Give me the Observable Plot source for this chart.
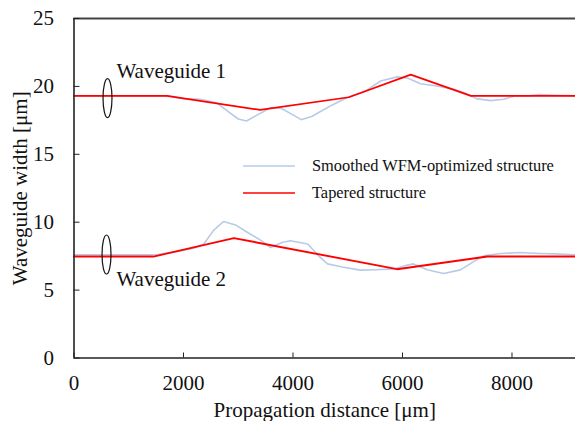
<!DOCTYPE html>
<html>
<head>
<meta charset="utf-8">
<script src="https://cdn.jsdelivr.net/npm/d3@7"></script>
<script src="https://cdn.jsdelivr.net/npm/@observablehq/plot@0.6"></script>
<style>
  html, body { margin: 0; padding: 0; background: #fff; }
  #wrap { position: relative; width: 575px; height: 421px; font-family: "Liberation Serif", "Times New Roman", serif; }
  #wrap svg text { font-family: "Liberation Serif", "Times New Roman", serif; }
  #legend { position: absolute; left: 243px; top: 152px; font-size: 16.4px; color: #111; }
  .item { display: flex; align-items: center; height: 27px; }
  .swatch { margin-right: 17px; }
</style>
</head>
<body>
<div id="wrap"><div id="legend"></div></div>
<script>
// Propagation distance (µm) and waveguide width (µm) for each structure
const wg1SmoothX = [0, 1700, 2000, 2300, 2600, 2800, 3000, 3150, 3350, 3600, 3800, 4000, 4150, 4350, 4700, 5000, 5300, 5600, 5900, 6100, 6330, 6600, 6930, 7150, 7350, 7610, 7850, 8050, 8300, 8500, 8800, 9160];
const wg1SmoothY = [19.3, 19.3, 19.1, 19.05, 18.8, 18.2, 17.6, 17.45, 17.9, 18.45, 18.35, 17.9, 17.55, 17.8, 18.6, 19.2, 19.6, 20.4, 20.7, 20.6, 20.2, 20.05, 19.8, 19.5, 19.1, 18.95, 19.05, 19.3, 19.3, 19.4, 19.35, 19.3];

const wg1TaperX = [0, 1700, 3400, 5020, 6150, 7250, 9160];
const wg1TaperY = [19.3, 19.3, 18.27, 19.2, 20.87, 19.3, 19.3];

const wg2SmoothX = [0, 1500, 1900, 2200, 2370, 2550, 2730, 2950, 3170, 3400, 3590, 3800, 3950, 4270, 4450, 4630, 4900, 5230, 5500, 5840, 6050, 6200, 6450, 6750, 7060, 7300, 7480, 7800, 8150, 8500, 8760, 9160];
const wg2SmoothY = [7.6, 7.6, 7.85, 8.1, 8.4, 9.4, 10.05, 9.8, 9.24, 8.7, 8.13, 8.5, 8.63, 8.4, 7.6, 6.93, 6.7, 6.47, 6.5, 6.56, 6.8, 6.93, 6.5, 6.22, 6.49, 7.1, 7.52, 7.7, 7.77, 7.7, 7.67, 7.6];

const wg2TaperX = [0, 1450, 2920, 5900, 7550, 9160];
const wg2TaperY = [7.47, 7.47, 8.83, 6.54, 7.47, 7.47];

const seriesNames = ["Smoothed WFM-optimized structure", "Tapered structure"];
const seriesColors = ["#b7cbe6", "#ff0000"];

const xTicks = [0, 2000, 4000, 6000, 8000];
const yTicks = [0, 5, 10, 15, 20, 25];

// Waveguide annotations: label text and bracket positions
const guideNames = ["Waveguide 1", "Waveguide 2"];
const guideLabelX = [775, 775];
const guideLabelY = [21.12, 5.8];
const guideMarkX = [612, 594];
const guideMarkY = [19.14, 7.62];

const zip = (xs, ys) => xs.map((x, i) => ({x, y: ys[i]}));
const smooth1 = zip(wg1SmoothX, wg1SmoothY);
const smooth2 = zip(wg2SmoothX, wg2SmoothY);
const taper1 = zip(wg1TaperX, wg1TaperY);
const taper2 = zip(wg2TaperX, wg2TaperY);
const guides = guideNames.map((name, i) => ({
  name, lx: guideLabelX[i], ly: guideLabelY[i], mx: guideMarkX[i], my: guideMarkY[i]
}));

// Tall narrow ellipse used as a bracket around each waveguide trace
const ellipseSymbol = {
  draw(context, size) {
    const ry = Math.sqrt(size / Math.PI), rx = ry * 0.23, k = 0.5523;
    context.moveTo(0, -ry);
    context.bezierCurveTo(k * rx, -ry, rx, -k * ry, rx, 0);
    context.bezierCurveTo(rx, k * ry, k * rx, ry, 0, ry);
    context.bezierCurveTo(-k * rx, ry, -rx, k * ry, -rx, 0);
    context.bezierCurveTo(-rx, -k * ry, -k * rx, -ry, 0, -ry);
    context.closePath();
  }
};

const font = "Liberation Serif, Times New Roman, serif";
const axisColor = "#222";
const plain = d => String(d);
const fs = 21;

const chart = Plot.plot({
  width: 575,
  height: 421,
  marginLeft: 73.5,
  marginRight: 0,
  marginTop: 18,
  marginBottom: 63.5,
  style: "font-family: 'Liberation Serif', 'Times New Roman', serif; font-size: 21px; color: #111; background: #fff; overflow: visible;",
  x: {domain: [0, 9160]},
  y: {domain: [0, 25]},
  marks: [
    Plot.line(smooth1, {x: "x", y: "y", stroke: seriesColors[0], strokeWidth: 1.6}),
    Plot.line(smooth2, {x: "x", y: "y", stroke: seriesColors[0], strokeWidth: 1.6}),
    Plot.line(taper1, {x: "x", y: "y", stroke: seriesColors[1], strokeWidth: 1.7}),
    Plot.line(taper2, {x: "x", y: "y", stroke: seriesColors[1], strokeWidth: 1.9}),
    Plot.dot(guides, {x: "mx", y: "my", r: 19.5, symbol: ellipseSymbol, stroke: "#111", strokeWidth: 1.2, fill: "none"}),
    Plot.text(guides, {x: "lx", y: "ly", text: "name", textAnchor: "start", fontSize: fs, fontFamily: font, fill: "#111"}),
    // frame lines
    Plot.ruleY([0], {stroke: axisColor, strokeWidth: 1.6}),
    Plot.ruleY([25], {stroke: "#444", strokeWidth: 1.8}),
    Plot.ruleX([0], {stroke: axisColor, strokeWidth: 1.6}),
    // ticks point into the plot, labels sit outside
    Plot.axisX(xTicks, {tickSize: 0, tickPadding: 17, label: null, fontSize: fs, fontFamily: font, tickFormat: plain}),
    Plot.axisX(xTicks, {tickSize: -5, tickFormat: () => "", label: null, stroke: axisColor}),
    Plot.axisY(yTicks, {tickSize: 0, tickPadding: 20, label: null, fontSize: fs, fontFamily: font, tickFormat: plain}),
    Plot.axisY(yTicks, {tickSize: -6, tickFormat: () => "", label: null, stroke: axisColor}),
    Plot.text(["Propagation distance [μm]"], {text: d => d, frameAnchor: "bottom", textAnchor: "middle", lineAnchor: "middle", dy: 52, fontSize: fs, fontFamily: font, fill: "#111"}),
    Plot.text(["Waveguide width [μm]"], {text: d => d, frameAnchor: "left", textAnchor: "middle", lineAnchor: "middle", dx: -53.5, rotate: -90, fontSize: fs, fontFamily: font, fill: "#111"})
  ]
});

const wrap = document.getElementById("wrap");
wrap.insertBefore(chart, wrap.firstChild);

// Legend drawn as HTML over the plot
const legend = d3.select("#legend");
seriesNames.forEach((name, i) => {
  const item = legend.append("div").attr("class", "item");
  item.append("svg").attr("class", "swatch").attr("width", 52).attr("height", 4)
    .append("line").attr("x1", 0).attr("x2", 52).attr("y1", 2).attr("y2", 2)
    .attr("stroke", seriesColors[i]).attr("stroke-width", 1.6);
  item.append("span").text(name);
});
</script>
</body>
</html>
